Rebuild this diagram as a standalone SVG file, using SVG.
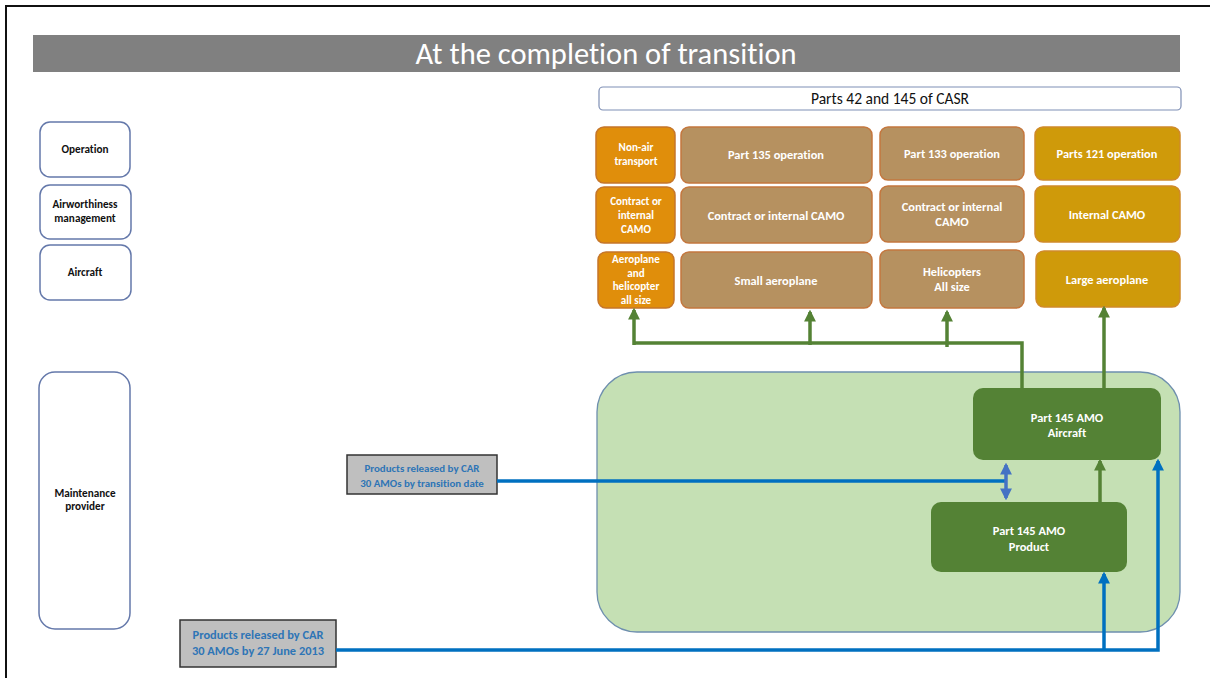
<svg xmlns="http://www.w3.org/2000/svg" width="1210" height="678" viewBox="0 0 1210 678">
<defs>
<style>
text{font-family:Carlito,Calibri,"Liberation Sans",Arial,sans-serif;text-anchor:middle;font-variant-ligatures:none}
.side{fill:#fff;stroke:#6478aa;stroke-width:1.5}
.sidet{font-size:11.2px;font-weight:bold;fill:#111}
.orange{fill:#e08e0b;stroke:#c5762a;stroke-width:1.5}
.tan{fill:#b69160;stroke:#c4773e;stroke-width:1.5}
.gold{fill:#cf9a0a;stroke:#d08a2a;stroke-width:1.5}
.wt{font-size:12.4px;font-weight:bold;fill:#fff}
.ws{font-size:11.1px;font-weight:bold;fill:#fff}
.amo{fill:#548235}
.gl{fill:none;stroke:#548235;stroke-width:3.5}
.bl{fill:none;stroke:#0070c0;stroke-width:3.5}
.grey{fill:#bfbfbf;stroke:#333;stroke-width:1.5}
.bt{font-size:10.9px;font-weight:bold;fill:#2e75b6}
.bt2{font-size:12.4px;font-weight:bold;fill:#2e75b6}
</style>
<marker id="ga" viewBox="0 0 10 10" refX="8" refY="5" markerWidth="3.4" markerHeight="3.4" orient="auto"><path d="M0,0 L10,5 L0,10 z" fill="#548235"/></marker>
<marker id="ba" viewBox="0 0 10 10" refX="8" refY="5" markerWidth="3.4" markerHeight="3.4" orient="auto"><path d="M0,0 L10,5 L0,10 z" fill="#0070c0"/></marker>
<marker id="da" viewBox="0 0 10 10" refX="8" refY="5" markerWidth="3.4" markerHeight="3.4" orient="auto-start-reverse"><path d="M0,0 L10,5 L0,10 z" fill="#4472c4"/></marker>
</defs>
<rect x="0" y="0" width="1210" height="678" fill="#fff"/>
<rect x="6" y="6" width="1214" height="690" fill="none" stroke="#111" stroke-width="2"/>

<g id="title">
<rect x="33" y="35" width="1147" height="37" fill="#808080"/>
<text x="606" y="64" style="font-size:30.5px;fill:#fff">At the completion of transition</text>
</g>
<g id="casr">
<rect x="599" y="87" width="582" height="23" rx="4" fill="#fff" stroke="#7f8fb5" stroke-width="1.2"/>
<text x="890" y="104" style="font-size:15.5px;fill:#111">Parts 42 and 145 of CASR</text>
</g>

<g id="operation"><rect class="side" x="40" y="122" width="90" height="55" rx="10"/><text class="sidet" x="85" y="153">Operation</text></g>
<g id="airworthiness"><rect class="side" x="40" y="185" width="91" height="54" rx="10"/><text class="sidet" x="85" y="208">Airworthiness</text><text class="sidet" x="85" y="222">management</text></g>
<g id="aircraft"><rect class="side" x="40" y="245" width="91" height="55" rx="10"/><text class="sidet" x="85" y="276">Aircraft</text></g>
<g id="maintenance"><rect class="side" x="39" y="372" width="91" height="257" rx="16"/><text class="sidet" x="85" y="497">Maintenance</text><text class="sidet" x="85" y="510">provider</text></g>

<g id="nonair"><rect class="orange" x="596" y="127" width="79" height="56" rx="8"/><text class="ws" x="636" y="151">Non-air</text><text class="ws" x="636" y="165">transport</text></g>
<g id="camo1"><rect class="orange" x="596" y="187" width="79" height="56" rx="8"/><text class="ws" x="636" y="205">Contract or</text><text class="ws" x="636" y="219">internal</text><text class="ws" x="636" y="233">CAMO</text></g>
<g id="aeroheli"><rect class="orange" x="598" y="252" width="76" height="56" rx="8"/><text class="ws" x="636" y="263">Aeroplane</text><text class="ws" x="636" y="277">and</text><text class="ws" x="636" y="290">helicopter</text><text class="ws" x="636" y="304">all size</text></g>

<g id="p135"><rect class="tan" x="681" y="127" width="191" height="56" rx="8"/><text class="wt" x="776" y="159">Part 135 operation</text></g>
<g id="camo2"><rect class="tan" x="681" y="187" width="191" height="56" rx="8"/><text class="wt" x="776" y="220">Contract or internal CAMO</text></g>
<g id="small"><rect class="tan" x="681" y="252" width="191" height="56" rx="8"/><text class="wt" x="776" y="285">Small aeroplane</text></g>

<g id="p133"><rect class="tan" x="880" y="127" width="144" height="53" rx="8"/><text class="wt" x="952" y="158">Part 133 operation</text></g>
<g id="camo3"><rect class="tan" x="880" y="186" width="144" height="56" rx="8"/><text class="wt" x="952" y="211">Contract or internal</text><text class="wt" x="952" y="226">CAMO</text></g>
<g id="heli"><rect class="tan" x="880" y="250" width="144" height="58" rx="8"/><text class="wt" x="952" y="276">Helicopters</text><text class="wt" x="952" y="291">All size</text></g>

<g id="p121"><rect class="gold" x="1035" y="127" width="145" height="53" rx="8"/><text class="wt" x="1107" y="158">Parts 121 operation</text></g>
<g id="camo4"><rect class="gold" x="1035" y="186" width="145" height="56" rx="8"/><text class="wt" x="1107" y="219">Internal CAMO</text></g>
<g id="large"><rect class="gold" x="1036" y="251" width="144" height="56" rx="8"/><text class="wt" x="1107" y="284">Large aeroplane</text></g>

<g id="region"><rect x="597" y="372" width="583" height="260" rx="40" fill="#c5e0b4" stroke="#6e8fae" stroke-width="1.3"/></g>

<g id="amo-aircraft"><rect class="amo" x="973" y="388" width="188" height="72" rx="10"/><text class="wt" x="1067" y="422">Part 145 AMO</text><text class="wt" x="1067" y="437">Aircraft</text></g>
<g id="amo-product"><rect class="amo" x="931" y="502" width="196" height="70" rx="10"/><text class="wt" x="1029" y="535">Part 145 AMO</text><text class="wt" x="1029" y="551">Product</text></g>

<g id="src1"><rect class="grey" x="347" y="455" width="150" height="39"/><text class="bt" x="422" y="472">Products released by CAR</text><text class="bt" x="422" y="487">30 AMOs by transition date</text></g>
<g id="src2"><rect class="grey" x="180" y="620" width="156" height="47"/><text class="bt2" x="258" y="639">Products released by CAR</text><text class="bt2" x="258" y="655">30 AMOs by 27 June 2013</text></g>

<g id="connectors">
<path class="gl" d="M1022,388 V343 H634"/>
<path class="gl" d="M634,345 V310" marker-end="url(#ga)"/>
<path class="gl" d="M810,345 V312" marker-end="url(#ga)"/>
<path class="gl" d="M947,347 V312" marker-end="url(#ga)"/>
<path class="gl" d="M1104,388 V308" marker-end="url(#ga)"/>
<path class="gl" d="M1100,502 V461" marker-end="url(#ga)"/>
<path class="bl" d="M497,481 H1006"/>
<path d="M1006,465 V498" fill="none" stroke="#4472c4" stroke-width="3.5" marker-start="url(#da)" marker-end="url(#da)"/>
<path class="bl" d="M336,650 H1158 V461" marker-end="url(#ba)"/>
<path class="bl" d="M1104,650 V574" marker-end="url(#ba)"/>
</g>
</svg>
